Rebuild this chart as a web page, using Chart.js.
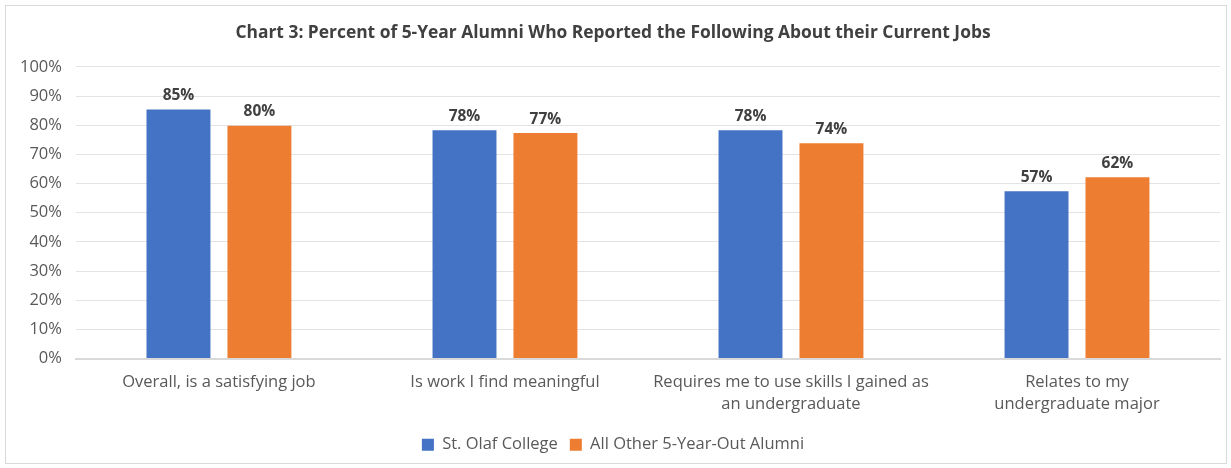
<!DOCTYPE html>
<html>
<head>
<meta charset="utf-8">
<script src="https://cdn.jsdelivr.net/npm/chart.js@4.4.1/dist/chart.umd.min.js"></script>
<style>
  html, body { margin: 0; padding: 0; background: #fff; }
  #wrap { position: absolute; left: 5px; top: 5px; width: 1222px; height: 459px; border: 1px solid #d9d9d9; box-sizing: border-box; }
  #c { display: block; }
</style>
</head>
<body>
<div id="wrap"><canvas id="c"></canvas></div>
<script>
'use strict';

// data
const categories = [
  'Overall, is a satisfying job',
  'Is work I find meaningful',
  ['Requires me to use skills I gained as', 'an undergraduate'],
  ['Relates to my', 'undergraduate major']
];
const stOlaf = [85.4, 78.3, 78.3, 57.4];
const otherAlumni = [79.8, 77.3, 73.8, 62.2];
const seriesNames = ['St. Olaf College', 'All Other 5-Year-Out Alumni'];
const yTicks = [0, 10, 20, 30, 40, 50, 60, 70, 80, 90, 100];

const FONT = "'Open Sans', 'Noto Sans', sans-serif";
const GREY = '#595959';

// small inline value-label plugin (no datalabels plugin offline)
const valueLabels = {
  id: 'valueLabels',
  afterDatasetsDraw(chart) {
    const ctx = chart.ctx;
    ctx.save();
    ctx.font = 'bold 15.5px ' + FONT;
    ctx.fillStyle = '#404040';
    ctx.textAlign = 'center';
    ctx.textBaseline = 'bottom';
    chart.data.datasets.forEach((ds, i) => {
      chart.getDatasetMeta(i).data.forEach((bar, j) => {
        ctx.fillText(Math.round(ds.data[j]) + '%', bar.x, bar.y - 6);
      });
    });
    ctx.restore();
  }
};

new Chart(document.getElementById('c'), {
  type: 'bar',
  data: {
    labels: categories,
    datasets: [
      { label: seriesNames[0], data: stOlaf, backgroundColor: '#4472c4' },
      { label: seriesNames[1], data: otherAlumni, backgroundColor: '#ed7d31' }
    ]
  },
  options: {
    responsive: true,
    maintainAspectRatio: false,
    animation: false,
    categoryPercentage: 0.566,
    barPercentage: 0.79,
    layout: { padding: { left: 0, right: 6, top: 4, bottom: 0 } },
    plugins: {
      title: {
        display: true,
        text: 'Chart 3: Percent of 5-Year Alumni Who Reported the Following About their Current Jobs',
        color: '#404040',
        font: { family: FONT, size: 17.4, weight: 'bold' },
        padding: { top: 13, bottom: 23 }
      },
      legend: {
        position: 'bottom',
        labels: {
          color: GREY,
          font: { family: FONT, size: 16.5 },
          boxWidth: 12, boxHeight: 12, padding: 12
        }
      },
      tooltip: { enabled: false }
    },
    scales: {
      x: {
        grid: { display: false },
        border: { color: '#d9d9d9', width: 2 },
        ticks: { color: GREY, font: { family: FONT, size: 16.5, lineHeight: 1.33 }, maxRotation: 0, padding: 5 },
        afterFit: axis => { axis.height += 4; }
      },
      y: {
        min: 0, max: 100,
        afterBuildTicks: axis => { axis.ticks = yTicks.map(v => ({ value: v })); },
        grid: { color: '#e3e3e3', drawTicks: false },
        border: { display: false },
        ticks: { color: GREY, font: { family: FONT, size: 16.5 }, padding: 14, callback: v => v + '%' }
      }
    }
  },
  plugins: [valueLabels]
});
</script>
</body>
</html>
